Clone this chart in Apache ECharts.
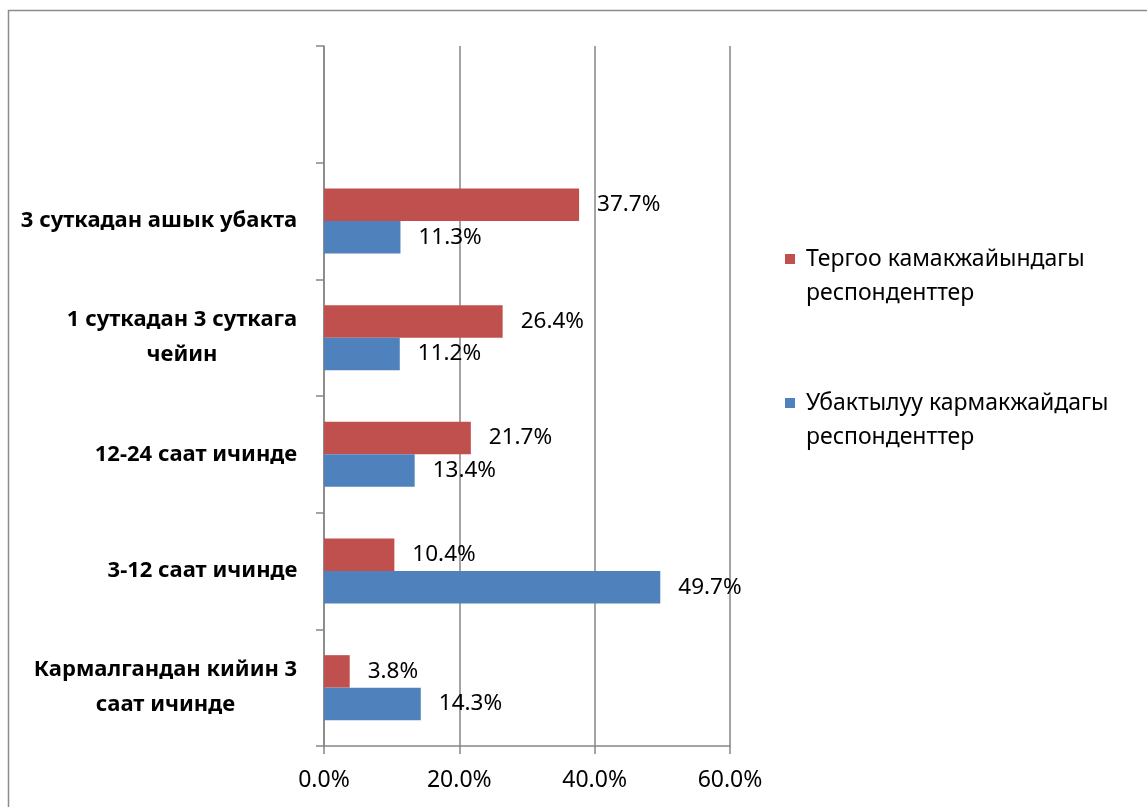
<!DOCTYPE html>
<html><head><meta charset="utf-8">
<script src="https://cdn.jsdelivr.net/npm/echarts@6/dist/echarts.min.js"></script>
<style>html,body{margin:0;padding:0;background:#fff}#c{width:1147px;height:807px}</style>
</head><body><div id="c"></div>
<script>
const categories = ['Кармалгандан кийин 3\nсаат ичинде', '3-12 саат ичинде', '12-24 саат ичинде', '1 суткадан 3 суткага\nчейин', '3 суткадан ашык убакта', ''];
const seriesNames = ['Тергоо камакжайындагы респонденттер', 'Убактылуу кармакжайдагы респонденттер'];
const tergooValues = [3.8, 10.4, 21.7, 26.4, 37.7];
const ubaktyluuValues = [14.3, 49.7, 13.4, 11.2, 11.3];
const xTicks = [0, 20, 40, 60];

const FONT = '"Noto Sans", sans-serif';
const catFontSize = 22;
const ctx = document.createElement('canvas').getContext('2d');
ctx.font = 'bold ' + catFontSize + 'px "Noto Sans"';
const rich = {};
categories.forEach((c, i) => {
  const w = Math.max(1, ...c.split('\n').map(s => ctx.measureText(s).width));
  rich['l' + i] = {width: Math.ceil(w) + 1, align: 'center', fontWeight: 'bold', fontSize: catFontSize, fontFamily: FONT, color: '#000', lineHeight: 35};
});

const chart = echarts.init(document.getElementById('c'), null, {renderer: 'canvas'});
const axisColor = '#868686';
const valueLabel = {show: true, position: 'right', distance: 18, formatter: p => p.value.toFixed(1) + '%', fontFamily: FONT, fontSize: 22.5, color: '#000'};
chart.setOption({
  animation: false,
  graphic: [{type: 'rect', shape: {x: 8.5, y: 10.5, width: 1300, height: 1000}, style: {fill: 'none', stroke: '#8c8c8c', lineWidth: 1.5}, silent: true}],
  grid: {left: 324, right: 417, top: 46, bottom: 61, containLabel: false},
  legend: {
    orient: 'vertical', left: 785, top: 208, padding: 0, itemGap: 42,
    itemWidth: 10, itemHeight: 10, icon: 'rect',
    data: seriesNames,
    formatter: n => '\n ' + n.replace(/ (респонденттер)$/, '\n $1'),
    textStyle: {fontFamily: FONT, fontSize: 23, color: '#000', lineHeight: 34}
  },
  xAxis: {
    type: 'value', min: xTicks[0], max: xTicks[xTicks.length - 1], interval: 20,
    axisLine: {show: true, lineStyle: {color: axisColor, width: 1.5}},
    axisTick: {show: true, length: 8, lineStyle: {color: axisColor, width: 1.5}},
    axisLabel: {formatter: v => v.toFixed(1) + '%', fontFamily: FONT, fontSize: 23, color: '#000', margin: 23},
    splitLine: {show: true, lineStyle: {color: axisColor, width: 1.5}}
  },
  yAxis: {
    type: 'category', data: categories, boundaryGap: true,
    axisLine: {show: true, lineStyle: {color: axisColor, width: 1.5}},
    axisTick: {show: true, length: 8, inside: false, lineStyle: {color: axisColor, width: 1.5}},
    axisLabel: {
      margin: 26, align: 'right',
      formatter: (v, i) => v === '' ? '' : v.split('\n').map(s => '{l' + i + '|' + s + '}').join('\n'),
      rich: rich
    },
    splitLine: {show: false}
  },
  series: [
    {name: seriesNames[0], type: 'bar', data: tergooValues, barWidth: 32.5, barGap: '0%',
     itemStyle: {color: '#C0504D'}, label: valueLabel},
    {name: seriesNames[1], type: 'bar', data: ubaktyluuValues, barWidth: 32.5, barGap: '0%',
     itemStyle: {color: '#4F81BD'}, label: valueLabel}
  ]
});
</script></body></html>
